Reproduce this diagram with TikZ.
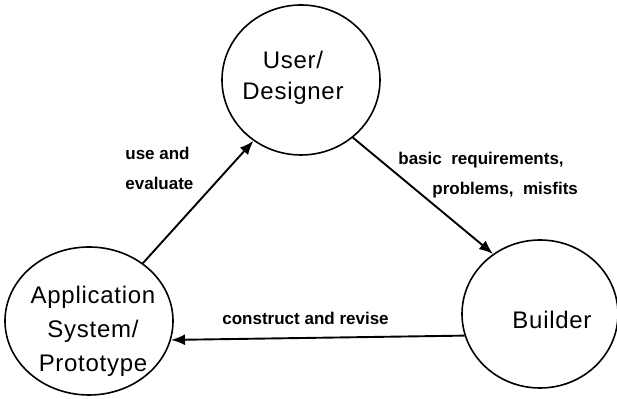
\documentclass[tikz,border=0pt]{standalone}
\usepackage{fontspec}
\setmainfont{Liberation Sans}
\usetikzlibrary{arrows.meta,shapes.geometric}

\tikzset{
  blob/.style={ellipse,draw,line width=0.8pt,inner sep=0pt},
  blobtext/.style={align=center,font=\fontsize{12}{15.5}\selectfont\addfontfeatures{LetterSpace=3}},
  flow/.style={-{Latex[length=7pt,width=5.5pt]},line width=0.95pt},
  note/.style={align=left,anchor=west,font=\fontsize{8.5}{15}\selectfont\bfseries,inner sep=0pt}
}

\begin{document}
\begin{tikzpicture}[x=0.5pt,y=-0.5pt]
\useasboundingbox (0,0) rectangle (617,399);

%---------------- the three actors ----------------
\node[blob,minimum width=79pt,minimum height=75pt] (user) at (301,80) {};
\node[blobtext] (usertext) at (293,78) {User/\\Designer};

\node[blob,minimum width=84pt,minimum height=74pt] (app) at (89,321) {};
\node[blobtext,font=\fontsize{12}{17}\selectfont\addfontfeatures{LetterSpace=3}] (apptext) at (93,331) {Application\\System/\\Prototype};

\node[blob,minimum width=78pt,minimum height=74pt] (builder) at (540,314) {};
\node[blobtext] (buildertext) at (552,320) {Builder};

%---------------- the cycle ----------------
\draw[flow] (app.47) -- (user.232);
\draw[flow] (user.-48) -- (builder.128);
\draw[flow] (builder.196) -- (app.-13);

% Arrow labels
\node[note] (uselbl) at (125,168) {use and\\evaluate};
\node[note] (reqlbl) at (398,160) {basic~ requirements,};
\node[note] (problbl) at (432,190) {problems,~ misfits};
\node[note] (buildlbl) at (222,318) {construct and revise};

\end{tikzpicture}
\end{document}
